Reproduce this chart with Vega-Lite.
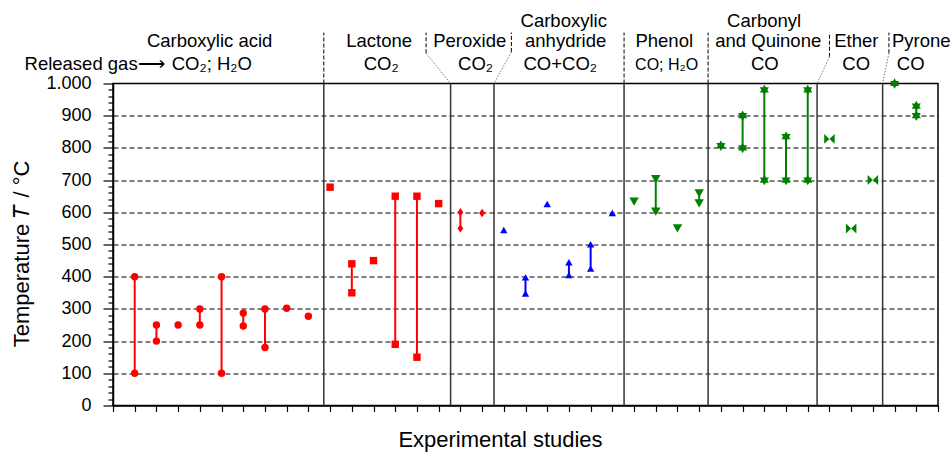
{
  "$schema": "https://vega.github.io/schema/vega-lite/v6.json",
  "width": 825,
  "height": 322,
  "autosize": {"type": "none"},
  "padding": {"left": 113, "top": 83.5, "right": 14, "bottom": 47.5},
  "config": {
    "font": "Liberation Sans",
    "view": {"stroke": "black", "strokeWidth": 1.5}
  },
  "resolve": {"axis": {"x": "independent", "y": "independent"}},
  "datasets": {
    "points": [
      {"study": 1, "temp": 400, "group": "Carboxylic acid"},
      {"study": 1, "temp": 100, "group": "Carboxylic acid"},
      {"study": 2, "temp": 250, "group": "Carboxylic acid"},
      {"study": 2, "temp": 200, "group": "Carboxylic acid"},
      {"study": 3, "temp": 250, "group": "Carboxylic acid"},
      {"study": 4, "temp": 300, "group": "Carboxylic acid"},
      {"study": 4, "temp": 250, "group": "Carboxylic acid"},
      {"study": 5, "temp": 400, "group": "Carboxylic acid"},
      {"study": 5, "temp": 100, "group": "Carboxylic acid"},
      {"study": 6, "temp": 287, "group": "Carboxylic acid"},
      {"study": 6, "temp": 247, "group": "Carboxylic acid"},
      {"study": 7, "temp": 300, "group": "Carboxylic acid"},
      {"study": 7, "temp": 180, "group": "Carboxylic acid"},
      {"study": 8, "temp": 302, "group": "Carboxylic acid"},
      {"study": 9, "temp": 277, "group": "Carboxylic acid"},
      {"study": 10, "temp": 678, "group": "Lactone"},
      {"study": 11, "temp": 440, "group": "Lactone"},
      {"study": 11, "temp": 350, "group": "Lactone"},
      {"study": 12, "temp": 450, "group": "Lactone"},
      {"study": 13, "temp": 650, "group": "Lactone"},
      {"study": 13, "temp": 190, "group": "Lactone"},
      {"study": 14, "temp": 650, "group": "Lactone"},
      {"study": 14, "temp": 150, "group": "Lactone"},
      {"study": 15, "temp": 627, "group": "Lactone"},
      {"study": 16, "temp": 600, "group": "Peroxide"},
      {"study": 16, "temp": 550, "group": "Peroxide"},
      {"study": 17, "temp": 598, "group": "Peroxide"},
      {"study": 18, "temp": 545, "group": "Carboxylic anhydride"},
      {"study": 19, "temp": 398, "group": "Carboxylic anhydride"},
      {"study": 19, "temp": 348, "group": "Carboxylic anhydride"},
      {"study": 20, "temp": 626, "group": "Carboxylic anhydride"},
      {"study": 21, "temp": 445, "group": "Carboxylic anhydride"},
      {"study": 21, "temp": 405, "group": "Carboxylic anhydride"},
      {"study": 22, "temp": 501, "group": "Carboxylic anhydride"},
      {"study": 22, "temp": 425, "group": "Carboxylic anhydride"},
      {"study": 23, "temp": 598, "group": "Carboxylic anhydride"},
      {"study": 24, "temp": 633, "group": "Phenol"},
      {"study": 25, "temp": 703, "group": "Phenol"},
      {"study": 25, "temp": 602, "group": "Phenol"},
      {"study": 26, "temp": 550, "group": "Phenol"},
      {"study": 27, "temp": 659, "group": "Phenol"},
      {"study": 27, "temp": 628, "group": "Phenol"},
      {"study": 28, "temp": 807, "group": "Carbonyl and Quinone"},
      {"study": 29, "temp": 900, "group": "Carbonyl and Quinone"},
      {"study": 29, "temp": 800, "group": "Carbonyl and Quinone"},
      {"study": 30, "temp": 980, "group": "Carbonyl and Quinone"},
      {"study": 30, "temp": 700, "group": "Carbonyl and Quinone"},
      {"study": 31, "temp": 835, "group": "Carbonyl and Quinone"},
      {"study": 31, "temp": 700, "group": "Carbonyl and Quinone"},
      {"study": 32, "temp": 980, "group": "Carbonyl and Quinone"},
      {"study": 32, "temp": 700, "group": "Carbonyl and Quinone"},
      {"study": 33, "temp": 828, "group": "Ether"},
      {"study": 34, "temp": 550, "group": "Ether"},
      {"study": 35, "temp": 700, "group": "Ether"},
      {"study": 36, "temp": 1000, "group": "Pyrone"},
      {"study": 37, "temp": 930, "group": "Pyrone"},
      {"study": 37, "temp": 900, "group": "Pyrone"}
    ],
    "separators": [
      {"x": 9.71}, {"x": 15.55}, {"x": 17.55}, {"x": 23.54}, {"x": 27.41}, {"x": 32.43}, {"x": 35.45}
    ],
    "guides": [
      {"x": 9.71, "y": 1000, "x2": 9.71, "y2": 1158, "kind": "vertical"},
      {"x": 14.42, "y": 1094, "x2": 14.42, "y2": 1158, "kind": "vertical"},
      {"x": 18.35, "y": 1098, "x2": 18.35, "y2": 1158, "kind": "vertical"},
      {"x": 23.54, "y": 1000, "x2": 23.54, "y2": 1158, "kind": "vertical"},
      {"x": 27.41, "y": 1000, "x2": 27.41, "y2": 1158, "kind": "vertical"},
      {"x": 33.0, "y": 1083, "x2": 33.0, "y2": 1158, "kind": "vertical"},
      {"x": 35.74, "y": 1094, "x2": 35.74, "y2": 1158, "kind": "vertical"},
      {"x": 14.42, "y": 1094, "x2": 15.55, "y2": 1000, "kind": "diagonal"},
      {"x": 18.35, "y": 1098, "x2": 17.55, "y2": 1000, "kind": "diagonal"},
      {"x": 33.0, "y": 1083, "x2": 32.43, "y2": 1000, "kind": "diagonal"},
      {"x": 35.74, "y": 1094, "x2": 35.45, "y2": 1000, "kind": "diagonal"}
    ],
    "labels": [
      {"text": "Carboxylic acid", "x": 4.45, "y": 1112},
      {"text": "CO₂; H₂O", "x": 4.55, "y": 1042},
      {"text": "Lactone", "x": 12.26, "y": 1112},
      {"text": "CO₂", "x": 12.35, "y": 1042},
      {"text": "Peroxide", "x": 16.43, "y": 1112},
      {"text": "CO₂", "x": 16.7, "y": 1042},
      {"text": "Carboxylic", "x": 20.76, "y": 1174},
      {"text": "anhydride", "x": 20.85, "y": 1112},
      {"text": "CO+CO₂", "x": 20.6, "y": 1042},
      {"text": "Phenol", "x": 25.39, "y": 1112},
      {"text": "Carbonyl", "x": 29.99, "y": 1174},
      {"text": "and Quinone", "x": 30.18, "y": 1112},
      {"text": "CO", "x": 30.02, "y": 1042},
      {"text": "Ether", "x": 34.24, "y": 1112},
      {"text": "CO", "x": 34.23, "y": 1042},
      {"text": "Pyrone", "x": 37.23, "y": 1112},
      {"text": "CO", "x": 36.74, "y": 1042}
    ],
    "smallLabels": [
      {"text": "CO; H₂O", "x": 25.5, "y": 1042}
    ],
    "gasLabel": [
      {"text": "Released gas⟶", "x": 2.38, "y": 1042}
    ]
  },
  "layer": [
    {
      "data": {"name": "separators"},
      "mark": {"type": "rule", "color": "#333333", "strokeWidth": 1.5},
      "encoding": {
        "x": {"field": "x", "type": "quantitative", "scale": {"domain": [0, 38], "nice": false, "zero": false}, "axis": null}
      }
    },
    {
      "data": {"name": "guides"},
      "transform": [{"filter": "datum.kind === 'vertical'"}],
      "mark": {"type": "rule", "color": "black", "strokeWidth": 1, "strokeDash": [4, 2], "clip": false},
      "encoding": {
        "x": {"field": "x", "type": "quantitative", "scale": {"domain": [0, 38], "nice": false, "zero": false}, "axis": null},
        "x2": {"field": "x2"},
        "y": {"field": "y", "type": "quantitative", "scale": {"domain": [0, 1000], "nice": false}, "axis": null},
        "y2": {"field": "y2"}
      }
    },
    {
      "data": {"name": "guides"},
      "transform": [{"filter": "datum.kind === 'diagonal'"}],
      "mark": {"type": "rule", "color": "#555555", "strokeWidth": 0.8, "strokeDash": [1.5, 1.5], "clip": false},
      "encoding": {
        "x": {"field": "x", "type": "quantitative", "scale": {"domain": [0, 38], "nice": false, "zero": false}, "axis": null},
        "x2": {"field": "x2"},
        "y": {"field": "y", "type": "quantitative", "scale": {"domain": [0, 1000], "nice": false}, "axis": null},
        "y2": {"field": "y2"}
      }
    },
    {
      "data": {"name": "points"},
      "transform": [
        {"aggregate": [{"op": "min", "field": "temp", "as": "low"}, {"op": "max", "field": "temp", "as": "high"}], "groupby": ["study", "group"]},
        {"filter": "datum.low < datum.high"}
      ],
      "mark": {"type": "rule", "strokeWidth": 2},
      "encoding": {
        "x": {"field": "study", "type": "quantitative", "scale": {"domain": [0, 38], "nice": false, "zero": false}, "axis": null},
        "y": {"field": "low", "type": "quantitative", "scale": {"domain": [0, 1000], "nice": false}, "axis": null},
        "y2": {"field": "high"},
        "color": {
          "field": "group", "type": "nominal", "legend": null,
          "scale": {
            "domain": ["Carboxylic acid", "Lactone", "Peroxide", "Carboxylic anhydride", "Phenol", "Carbonyl and Quinone", "Ether", "Pyrone"],
            "range": ["#ff0000", "#ff0000", "#ff0000", "#0000ff", "#008000", "#008000", "#008000", "#008000"]
          }
        }
      }
    },
    {
      "data": {"name": "points"},
      "mark": {"type": "point", "filled": true, "opacity": 1},
      "encoding": {
        "x": {
          "field": "study", "type": "quantitative",
          "scale": {"domain": [0, 38], "nice": false, "zero": false},
          "axis": {
            "orient": "bottom",
            "values": [0,1,2,3,4,5,6,7,8,9,10,11,12,13,14,15,16,17,18,19,20,21,22,23,24,25,26,27,28,29,30,31,32,33,34,35,36,37,38],
            "labels": false, "grid": false,
            "tickSize": 6, "tickColor": "black", "tickWidth": 1.2,
            "domainColor": "black", "domainWidth": 1.5,
            "title": "Experimental studies",
            "titleFontSize": 22, "titleFontWeight": "normal", "titleColor": "black",
            "titleX": 387, "titleY": 41, "titleBaseline": "alphabetic", "titleAlign": "center"
          }
        },
        "y": {
          "field": "temp", "type": "quantitative",
          "scale": {"domain": [0, 1000], "nice": false},
          "axis": {
            "orient": "left",
            "values": [0,20,40,60,80,100,120,140,160,180,200,220,240,260,280,300,320,340,360,380,400,420,440,460,480,500,520,540,560,580,600,620,640,660,680,700,720,740,760,780,800,820,840,860,880,900,920,940,960,980,1000],
            "labelExpr": "datum.value % 100 === 0 ? (datum.value === 1000 ? '1.000' : datum.label) : ''",
            "labelFontSize": 18, "labelColor": "black", "labelPadding": 12, "labelOverlap": false, "labelFlush": false,
            "tickColor": "black", "tickWidth": 1.2,
            "tickSize": {"condition": {"test": "datum.value % 100 === 0", "value": 10}, "value": 5},
            "domainColor": "black", "domainWidth": 1.5,
            "grid": true, "gridColor": "black", "gridDash": [5, 3], "gridWidth": 1,
            "gridOpacity": {"condition": {"test": "datum.value % 100 === 0 && datum.value > 0 && datum.value < 1000", "value": 1}, "value": 0},
            "title": "Temperature 𝑇 / °C",
            "titleFontSize": 22, "titleFontWeight": "normal", "titleColor": "black",
            "titleX": -85, "titleY": 170, "titleAngle": -90, "titleAlign": "center", "titleBaseline": "alphabetic"
          }
        },
        "color": {
          "field": "group", "type": "nominal", "legend": null,
          "scale": {
            "domain": ["Carboxylic acid", "Lactone", "Peroxide", "Carboxylic anhydride", "Phenol", "Carbonyl and Quinone", "Ether", "Pyrone"],
            "range": ["#ff0000", "#ff0000", "#ff0000", "#0000ff", "#008000", "#008000", "#008000", "#008000"]
          }
        },
        "shape": {
          "field": "group", "type": "nominal", "legend": null,
          "scale": {
            "domain": ["Carboxylic acid", "Lactone", "Peroxide", "Carboxylic anhydride", "Phenol", "Carbonyl and Quinone", "Ether", "Pyrone"],
            "range": [
              "circle",
              "square",
              "M0,-1L0.7,0L0,1L-0.7,0Z",
              "triangle-up",
              "triangle-down",
              "M0,-1L0.289,-0.5L0.866,-0.5L0.577,0L0.866,0.5L0.289,0.5L0,1L-0.289,0.5L-0.866,0.5L-0.577,0L-0.866,-0.5L-0.289,-0.5Z",
              "M-1,-0.95L0,0L-1,0.95Z M1,-0.95L0,0L1,0.95Z",
              "M0,-1L0.289,-0.5L0.866,-0.5L0.577,0L0.866,0.5L0.289,0.5L0,1L-0.289,0.5L-0.866,0.5L-0.577,0L-0.866,-0.5L-0.289,-0.5Z"
            ]
          }
        },
        "size": {
          "field": "group", "type": "nominal", "legend": null,
          "scale": {
            "type": "ordinal",
            "domain": ["Carboxylic acid", "Lactone", "Peroxide", "Carboxylic anhydride", "Phenol", "Carbonyl and Quinone", "Ether", "Pyrone"],
            "range": [55, 55, 70, 55, 90, 110, 110, 110]
          }
        }
      }
    },
    {
      "data": {"name": "labels"},
      "mark": {"type": "text", "fontSize": 18.5, "align": "center", "baseline": "alphabetic", "color": "black", "clip": false},
      "encoding": {
        "x": {"field": "x", "type": "quantitative", "scale": {"domain": [0, 38], "nice": false, "zero": false}, "axis": null},
        "y": {"field": "y", "type": "quantitative", "scale": {"domain": [0, 1000], "nice": false}, "axis": null},
        "text": {"field": "text"}
      }
    },
    {
      "data": {"name": "smallLabels"},
      "mark": {"type": "text", "fontSize": 16, "align": "center", "baseline": "alphabetic", "color": "black", "clip": false},
      "encoding": {
        "x": {"field": "x", "type": "quantitative", "scale": {"domain": [0, 38], "nice": false, "zero": false}, "axis": null},
        "y": {"field": "y", "type": "quantitative", "scale": {"domain": [0, 1000], "nice": false}, "axis": null},
        "text": {"field": "text"}
      }
    },
    {
      "data": {"name": "gasLabel"},
      "mark": {"type": "text", "fontSize": 18.5, "align": "right", "baseline": "alphabetic", "color": "black", "clip": false},
      "encoding": {
        "x": {"field": "x", "type": "quantitative", "scale": {"domain": [0, 38], "nice": false, "zero": false}, "axis": null},
        "y": {"field": "y", "type": "quantitative", "scale": {"domain": [0, 1000], "nice": false}, "axis": null},
        "text": {"field": "text"}
      }
    }
  ]
}
